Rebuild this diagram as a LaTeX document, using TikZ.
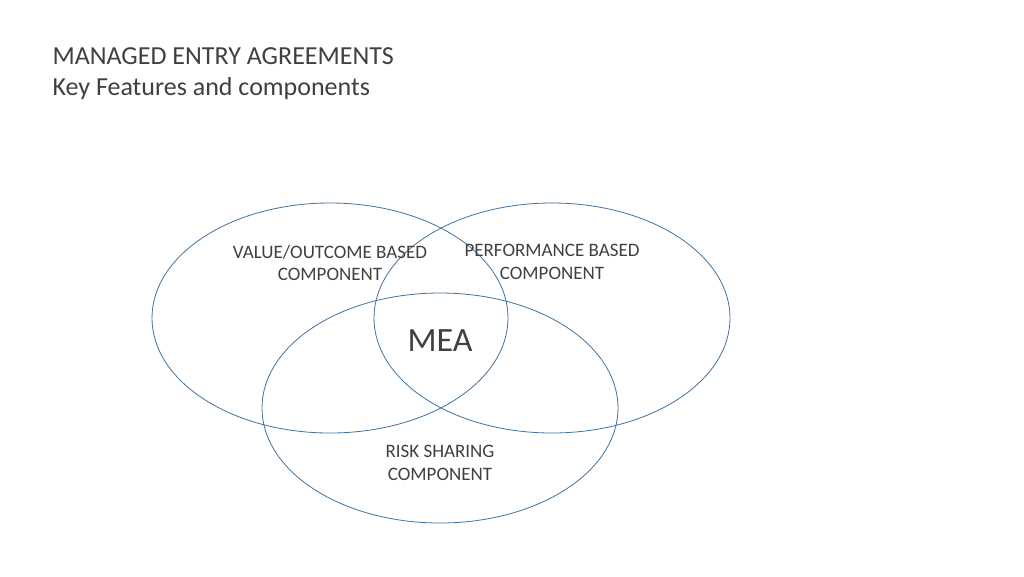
\documentclass[tikz,border=0pt]{standalone}
\usepackage{fontspec}
\setmainfont{Carlito}
\usetikzlibrary{shapes.geometric}
\definecolor{edge}{HTML}{41719C}
\definecolor{txt}{HTML}{404040}
\tikzset{venn/.style={draw=edge,line width=0.8pt,ellipse,minimum width=356pt,minimum height=230pt,inner sep=0pt},
lbl/.style={font=\fontsize{19}{22.5}\selectfont,text=txt,align=center}}
\begin{document}
\begin{tikzpicture}[x=1pt,y=-1pt]
\useasboundingbox (0,0) rectangle (1024,576);
\node[venn] (L) at (330,318) {};
\node[venn] (R) at (552,318) {};
\node[venn] (B) at (440,408) {};
\node[anchor=north west,font=\fontsize{26}{31}\selectfont,text=txt,align=left] (title) at (49,44) {MANAGED ENTRY AGREEMENTS\\Key Features and components};
\node[lbl] (vl) at (330,263) {VALUE/OUTCOME BASED\\COMPONENT};
\node[lbl] (pl) at (552,262) {PERFORMANCE BASED\\COMPONENT};
\node[lbl] (rl) at (440,463) {RISK SHARING\\COMPONENT};
\node[font=\fontsize{34}{40}\selectfont,text=txt] (mea) at (440,341) {MEA};
\end{tikzpicture}
\end{document}
